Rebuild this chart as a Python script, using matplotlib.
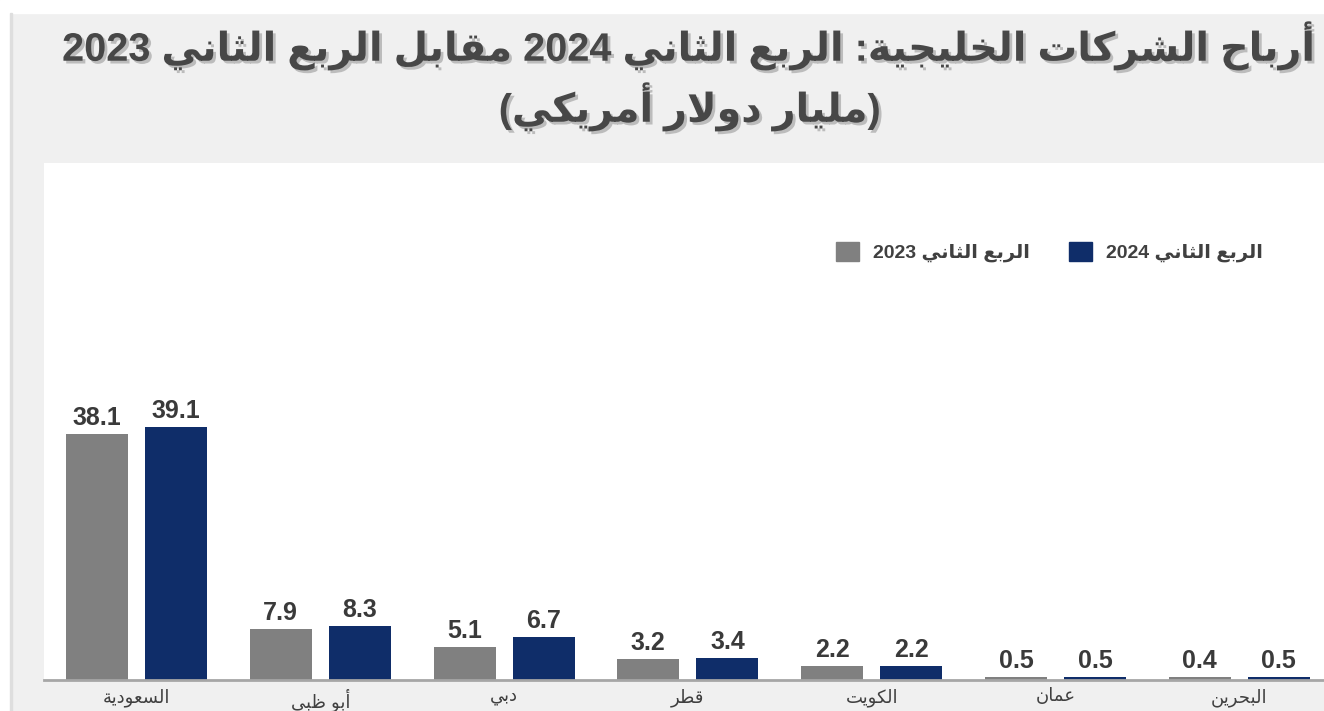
import re
import numpy as np
import matplotlib
matplotlib.use('Agg')
from matplotlib import pyplot as plt
from matplotlib.patches import Rectangle, Patch
import matplotlib.patheffects as pe

plt.rcParams['font.family'] = ['Liberation Sans', 'DejaVu Sans']

# data
countries = ['السعودية', 'أبو ظبي', 'دبي', 'قطر', 'الكويت', 'عمان', 'البحرين']
q2_2023 = [38.1, 7.9, 5.1, 3.2, 2.2, 0.5, 0.4]
q2_2024 = [39.1, 8.3, 6.7, 3.4, 2.2, 0.5, 0.5]
series_names = ['الربع الثاني 2023', 'الربع الثاني 2024']
title_1 = 'أرباح الشركات الخليجية: الربع الثاني 2024 مقابل الربع الثاني 2023'
title_2 = '(مليار دولار أمريكي)'

c_grey = '#808080'
c_blue = '#0f2d69'

# --- minimal arabic shaping (presentation forms) + rtl ordering ---
_tab = [('\u0621', 0xFE80, 1), ('\u0622', 0xFE81, 2), ('\u0623', 0xFE83, 2),
        ('\u0624', 0xFE85, 2), ('\u0625', 0xFE87, 2), ('\u0626', 0xFE89, 4),
        ('\u0627', 0xFE8D, 2), ('\u0628', 0xFE8F, 4), ('\u0629', 0xFE93, 2),
        ('\u062A', 0xFE95, 4), ('\u062B', 0xFE99, 4), ('\u062C', 0xFE9D, 4),
        ('\u062D', 0xFEA1, 4), ('\u062E', 0xFEA5, 4), ('\u062F', 0xFEA9, 2),
        ('\u0630', 0xFEAB, 2), ('\u0631', 0xFEAD, 2), ('\u0632', 0xFEAF, 2),
        ('\u0633', 0xFEB1, 4), ('\u0634', 0xFEB5, 4), ('\u0635', 0xFEB9, 4),
        ('\u0636', 0xFEBD, 4), ('\u0637', 0xFEC1, 4), ('\u0638', 0xFEC5, 4),
        ('\u0639', 0xFEC9, 4), ('\u063A', 0xFECD, 4), ('\u0641', 0xFED1, 4),
        ('\u0642', 0xFED5, 4), ('\u0643', 0xFED9, 4), ('\u0644', 0xFEDD, 4),
        ('\u0645', 0xFEE1, 4), ('\u0646', 0xFEE5, 4), ('\u0647', 0xFEE9, 4),
        ('\u0648', 0xFEED, 2), ('\u0649', 0xFEEF, 2), ('\u064A', 0xFEF1, 4)]
FORMS = {ch: (base, n) for ch, base, n in _tab}
LAMALEF = {'\u0622': 0xFEF5, '\u0623': 0xFEF7, '\u0625': 0xFEF9, '\u0627': 0xFEFB}


def shape(s):
    units = []
    i = 0
    while i < len(s):
        ch = s[i]
        if ch == '\u0644' and i + 1 < len(s) and s[i + 1] in LAMALEF:
            units.append(('LA', LAMALEF[s[i + 1]]))
            i += 2
        else:
            units.append(('C', ch))
            i += 1

    def n_forms(u):
        if u[0] == 'LA':
            return 2
        return FORMS[u[1]][1] if u[1] in FORMS else 0

    out = []
    for k, u in enumerate(units):
        nf = n_forms(u)
        prev_ok = k > 0 and n_forms(units[k - 1]) == 4 and nf >= 2
        next_ok = nf == 4 and k + 1 < len(units) and n_forms(units[k + 1]) >= 2
        if u[0] == 'LA':
            out.append(chr(u[1] + (1 if prev_ok else 0)))
            continue
        if nf == 0:
            out.append(u[1])
            continue
        base = FORMS[u[1]][0]
        if prev_ok and next_ok:
            off = 3
        elif prev_ok:
            off = 1
        elif next_ok:
            off = 2
        else:
            off = 0
        out.append(chr(base + off))
    return ''.join(out)


def rtl(s):
    t = shape(s)[::-1]
    t = re.sub(r'[0-9.]+', lambda m: m.group(0)[::-1], t)
    return t.translate(str.maketrans('()', ')('))


fig = plt.figure(figsize=(13.24, 7.11), dpi=100, facecolor='#f0f0f0')
W, H = 1324, 711
fig.patches.append(Rectangle((0, 1 - 13 / H), 1, 13 / H, transform=fig.transFigure,
                             color='white', zorder=0))
fig.patches.append(Rectangle((0, 0), 10 / W, 1, transform=fig.transFigure,
                             color='white', zorder=0))
fig.patches.append(Rectangle((10 / W, 0), 2 / W, 1 - 13 / H, transform=fig.transFigure,
                             color='#dedede', zorder=0))

ax = fig.add_axes([44 / W, 31 / H, 1280 / W, 517 / H])
ax.set_facecolor('white')

x = np.arange(len(countries))
off = 0.215
w = 0.337
b1 = ax.bar(x - off, q2_2023, w, color=c_grey)
b2 = ax.bar(x + off, q2_2024, w, color=c_blue)
for bars in (b1, b2):
    ax.bar_label(bars, fmt='%.1f', padding=3, fontsize=18, fontweight='bold',
                 color='#3a3a3a')

ax.set_xlim(-0.503, 6.461)
ax.set_ylim(0, 80)
ax.set_yticks([])
ax.set_xticks(x, labels=[rtl(c) for c in countries])
ax.tick_params(axis='x', length=0, pad=6, labelsize=13, labelcolor='#404040')
for s in ['top', 'left', 'right']:
    ax.spines[s].set_visible(False)
ax.spines['bottom'].set_color('#a6a6a6')
ax.spines['bottom'].set_linewidth(2)

handles = [Patch(color=c_grey), Patch(color=c_blue)]
ax.legend(handles, [rtl(s) for s in series_names], ncol=2, loc='center right',
          bbox_to_anchor=(1263 / W, 1 - 252 / H), bbox_transform=fig.transFigure,
          frameon=False, prop={'weight': 'bold', 'size': 14},
          handlelength=1.15, handleheight=1.15, handletextpad=0.75,
          columnspacing=2.0, borderpad=0, borderaxespad=0,
          labelcolor='#404040')

shadow = [pe.SimplePatchShadow(offset=(2, -2), shadow_rgbFace='#9a9a9a', alpha=0.6),
          pe.Normal()]
fig.text(689 / W, 1 - 46 / H, rtl(title_1), ha='center', va='center', fontsize=28.6,
         fontweight='bold', color='#474747', path_effects=shadow)
fig.text(690 / W, 1 - 107 / H, rtl(title_2), ha='center', va='center', fontsize=28.6,
         fontweight='bold', color='#474747', path_effects=shadow)

fig.savefig('out.png', dpi=100, facecolor=fig.get_facecolor())
